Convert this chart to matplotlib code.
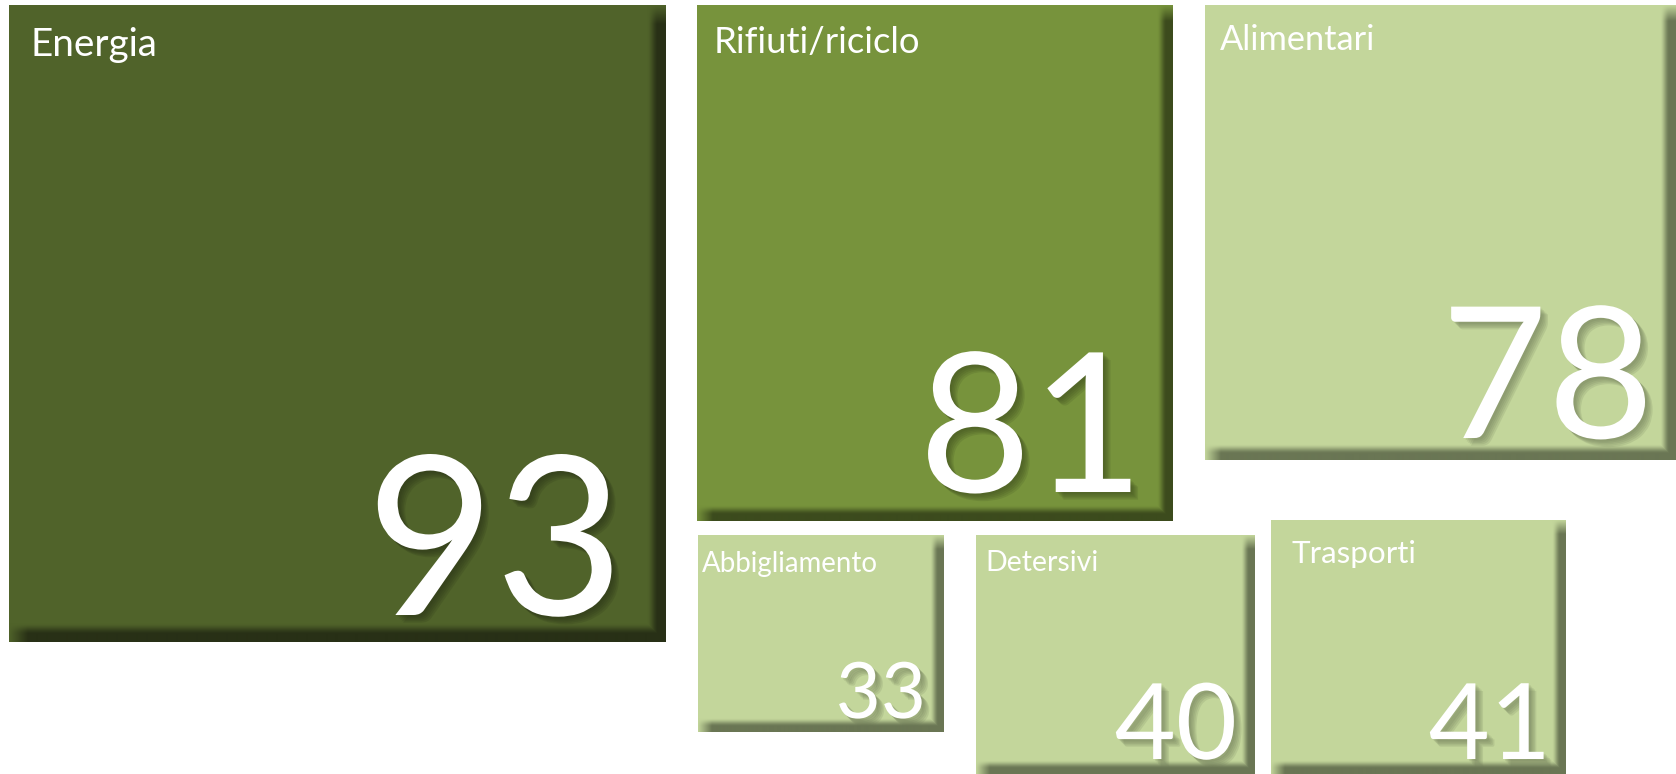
import numpy as np
import matplotlib
matplotlib.use("Agg")
import matplotlib.pyplot as plt
import matplotlib.patheffects as pe
from matplotlib.patches import Rectangle
from matplotlib.colors import to_rgb

# -------------------------------
# Data
# -------------------------------
categories = ["Energia", "Rifiuti/riciclo", "Alimentari",
              "Abbigliamento", "Detersivi", "Trasporti"]
values = [93, 81, 78, 33, 40, 41]

# -------------------------------
# Layout (figure pixels: x0, y0, x1, y1) and styles
# -------------------------------
tiles = [
    (9, 5, 666, 642),
    (697, 5, 1173, 521),
    (1205, 5, 1676, 460),
    (698, 535, 944, 732),
    (976, 535, 1255, 774),
    (1271, 520, 1566, 774),
]
base_colors = ["#50632a", "#77933c", "#c3d69b", "#c3d69b", "#c3d69b", "#c3d69b"]
edge_colors = ["#283016", "#3c4b1d", "#6a7654", "#6a7654", "#6a7654", "#6a7654"]
shadow_px = [19, 16, 16, 14, 14, 14]

# label: left x, baseline y, target text width (px)
label_pos = [(30, 56), (714, 53), (1220, 50), (702, 572), (985, 571), (1291, 563)]
label_width = [127, 207, 156, 176, 113, 125]

# number: right x, baseline y, font size (pt)
number_pos = [(624, 615), (1144, 492), (1654, 438), (926, 718), (1237, 759), (1551, 759)]
number_size = [160, 140, 132, 56, 76, 76]

FONT = "Lato"


def draw_tile(ax, box, base, dark, s):
    x0, y0, x1, y1 = box
    ax.add_patch(Rectangle((x0, y0), x1 - x0, y1 - y0, facecolor=base,
                           edgecolor="none", zorder=1))
    b = np.array(to_rgb(base))
    d = np.array(to_rgb(dark))
    w, h = int(x1 - x0), int(y1 - y0)

    # right bevel strip
    xs = np.arange(s) + 0.5
    ys = np.arange(h) + 0.5
    t = np.clip((xs) / (0.6 * s), 0, 1)
    t = t * t * (3 - 2 * t)
    F = t[None, :] * np.clip(ys / s, 0, 1)[:, None]
    img = b * (1 - F[..., None]) + d * F[..., None]
    ax.imshow(img, extent=(x1 - s, x1, y1, y0), interpolation="bilinear",
              aspect="auto", zorder=1.5)

    # bottom bevel strip (right part left to the right strip)
    xs = np.arange(w - s) + 0.5
    ys = np.arange(s) + 0.5
    t = np.clip(ys / (0.6 * s), 0, 1)
    t = t * t * (3 - 2 * t)
    F = t[:, None] * np.clip(xs / s, 0, 1)[None, :]
    # blend into the right strip at the corner
    img = b * (1 - F[..., None]) + d * F[..., None]
    ax.imshow(img, extent=(x0, x1 - s, y1, y1 - s), interpolation="bilinear",
              aspect="auto", zorder=1.6)
    # corner block: max of both darkenings
    cx = np.arange(s) + 0.5
    tx = np.clip(cx / (0.6 * s), 0, 1)
    tx = tx * tx * (3 - 2 * tx)
    F = np.maximum(tx[None, :], tx[:, None])
    img = b * (1 - F[..., None]) + d * F[..., None]
    ax.imshow(img, extent=(x1 - s, x1, y1, y1 - s), interpolation="bilinear",
              aspect="auto", zorder=1.7)


fig = plt.figure(figsize=(16.76, 7.74), dpi=100)
ax = fig.add_axes([0, 0, 1, 1])
ax.set_xlim(0, 1676)
ax.set_ylim(774, 0)
ax.axis("off")
renderer = fig.canvas.get_renderer()

for i, cat in enumerate(categories):
    draw_tile(ax, tiles[i], base_colors[i], edge_colors[i], shadow_px[i])

    lx, ly = label_pos[i]
    lab = ax.text(lx, ly, cat, color="white", fontsize=24, family=FONT,
                  ha="left", va="baseline", zorder=3)
    wpx = lab.get_window_extent(renderer).width
    lab.set_fontsize(24 * label_width[i] / wpx)

    nx, ny = number_pos[i]
    sh = edge_colors[i]
    effects = [pe.SimplePatchShadow(offset=(o, -o), shadow_rgbFace=sh, alpha=0.16)
               for o in (1.5, 2.5, 3.5, 4.5, 5.5)]
    effects.append(pe.Normal())
    ax.text(nx, ny, str(values[i]), color="white", fontsize=number_size[i],
            family=FONT, ha="right", va="baseline", zorder=3,
            path_effects=effects)

ax.set_xlim(0, 1676)
ax.set_ylim(774, 0)

fig.savefig("out.png", dpi=100, facecolor="white")
